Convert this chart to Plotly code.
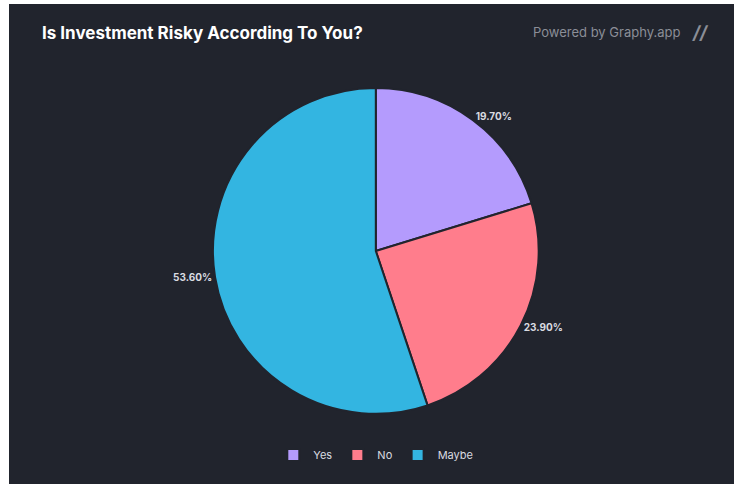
import plotly.graph_objects as go

# Survey answers and their shares (%)
answers = ["Yes", "No", "Maybe"]
shares = [19.70, 23.90, 53.60]
slice_colors = ["#b49bfd", "#ff7d8c", "#33b5e1"]

W, H = 734, 484
panel_bg = "#21242d"

fig = go.Figure(
    go.Pie(
        labels=answers,
        values=shares,
        sort=False,
        direction="clockwise",
        rotation=0,
        marker=dict(colors=slice_colors, line=dict(color=panel_bg, width=2)),
        texttemplate="%{value:.2f}%",
        textposition="outside",
        outsidetextfont=dict(family="Inter", size=10, color="#d9dbe0", weight="bold"),
        hoverinfo="label+value",
        domain=dict(x=[0.197, 0.827], y=[0.145, 0.818]),
    )
)

fig.update_layout(
    width=W,
    height=H,
    margin=dict(l=0, r=0, t=0, b=0),
    paper_bgcolor="white",
    plot_bgcolor="white",
    font=dict(family="Inter", color="#d9dbe0"),
    showlegend=True,
    legend=dict(
        orientation="h",
        x=0.512,
        xanchor="center",
        y=0.06,
        yanchor="middle",
        font=dict(family="Inter", size=11, color="#d9dbe0"),
        bgcolor="rgba(0,0,0,0)",
        itemwidth=30,
    ),
    shapes=[
        dict(
            type="rect",
            xref="paper",
            yref="paper",
            x0=9 / W,
            x1=1.0,
            y0=0.0,
            y1=1 - 4 / H,
            fillcolor=panel_bg,
            line=dict(width=0),
            layer="below",
        )
    ],
    annotations=[
        dict(
            text="<b>Is Investment Risky According To You?</b>",
            xref="paper",
            yref="paper",
            x=40 / W,
            y=1 - 33 / H,
            xanchor="left",
            yanchor="middle",
            showarrow=False,
            font=dict(family="Inter", size=17, color="#ffffff"),
        ),
        dict(
            text="Powered by Graphy.app",
            xref="paper",
            yref="paper",
            x=682 / W,
            y=1 - 32 / H,
            xanchor="right",
            yanchor="middle",
            showarrow=False,
            font=dict(family="Inter", size=13, color="#8b8e97"),
        ),
        dict(
            text="<b><i>//</i></b>",
            xref="paper",
            yref="paper",
            x=700 / W,
            y=1 - 32 / H,
            xanchor="center",
            yanchor="middle",
            showarrow=False,
            font=dict(family="Inter", size=18, color="#8b8e97"),
        ),
    ],
)

fig.write_html("out.html")
